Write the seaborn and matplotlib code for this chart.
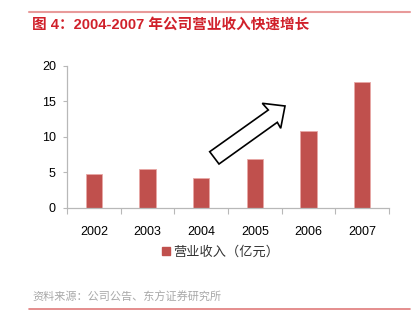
import matplotlib
matplotlib.use("Agg")
import matplotlib.pyplot as plt
from matplotlib.patches import Polygon, Patch
from matplotlib.lines import Line2D
import seaborn as sns
import pandas as pd

# Annual revenue (100 million yuan)
years = ["2002", "2003", "2004", "2005", "2006", "2007"]
revenue = [4.7, 5.4, 4.2, 6.9, 10.8, 17.7]
series_label = "营业收入（亿元）"
title_text = "图 4：2004-2007 年公司营业收入快速增长"
source_text = "资料来源：公司公告、东方证券研究所"
y_ticks = [0, 5, 10, 15, 20]

sns.set_style("white")
plt.rcParams["font.family"] = ["Liberation Sans", "Noto Sans CJK SC", "DejaVu Sans"]

W, H = 411, 326
fig = plt.figure(figsize=(W / 100, H / 100), dpi=100)


def px(x, y):
    """Pixel position (top-left origin) to figure fraction."""
    return x / W, 1 - y / H


ax = fig.add_axes([67 / W, 1 - 207.5 / H, (389 - 67) / W, (207.5 - 65.7) / H])

df = pd.DataFrame({"year": years, "revenue": revenue})
bar_color = "#C0504D"
sns.barplot(data=df, x="year", y="revenue", color=bar_color, saturation=1,
            width=0.31, ax=ax, edgecolor="#E8A8A6", linewidth=0.6)

ax.set_ylim(0, 20)
ax.set_xlim(-0.5, len(years) - 0.5)
ax.set_yticks(y_ticks)
ax.set_xlabel("")
ax.set_ylabel("")

axis_grey = "#B8B8B8"
for side in ("top", "right"):
    ax.spines[side].set_visible(False)
for side in ("left", "bottom"):
    ax.spines[side].set_color(axis_grey)
    ax.spines[side].set_linewidth(0.9)

ax.tick_params(axis="y", which="major", direction="out", length=3, width=0.8,
               color=axis_grey, pad=5, labelsize=9, labelcolor="black", left=True)
ax.tick_params(axis="x", which="major", length=0, pad=13, labelsize=9,
               labelcolor="black")
ax.set_xticks([i - 0.5 for i in range(len(years) + 1)], minor=True)
ax.tick_params(axis="x", which="minor", direction="out", length=4, width=0.8,
               color=axis_grey, bottom=True)

# Upward trend arrow
arrow_pts = [(209.7, 151.7), (268.3, 110.0), (262.3, 103.3), (285.0, 106.0),
             (280.7, 128.3), (277.3, 122.3), (219.0, 164.0)]
arrow = Polygon([px(x, y) for x, y in arrow_pts], closed=True,
                transform=fig.transFigure, facecolor="white",
                edgecolor="black", linewidth=1.2, zorder=5)
fig.patches.append(arrow)

# Legend
handle = Patch(facecolor=bar_color, edgecolor=bar_color)
fig.legend([handle], [series_label], loc="center",
           bbox_to_anchor=px(221, 252), frameon=False, fontsize=9.5,
           handlelength=0.55, handleheight=0.55, handletextpad=0.3,
           labelcolor="#333333")

# Header / footer rules
fig.add_artist(Line2D([29 / W, 410 / W], [1 - 12 / H] * 2, color="#E89A9A",
                      linewidth=1.5, transform=fig.transFigure))
fig.add_artist(Line2D([29 / W, 410 / W], [1 - 308.5 / H] * 2, color="#E07A7A",
                      linewidth=1.2, transform=fig.transFigure))

fig.text(*px(32, 25), title_text, color="#D0202A", fontsize=10.5,
         fontweight="semibold", ha="left", va="center")
fig.text(*px(32, 297), source_text, color="#A8A8A8", fontsize=8,
         ha="left", va="center")

fig.savefig("out.png", dpi=100)
